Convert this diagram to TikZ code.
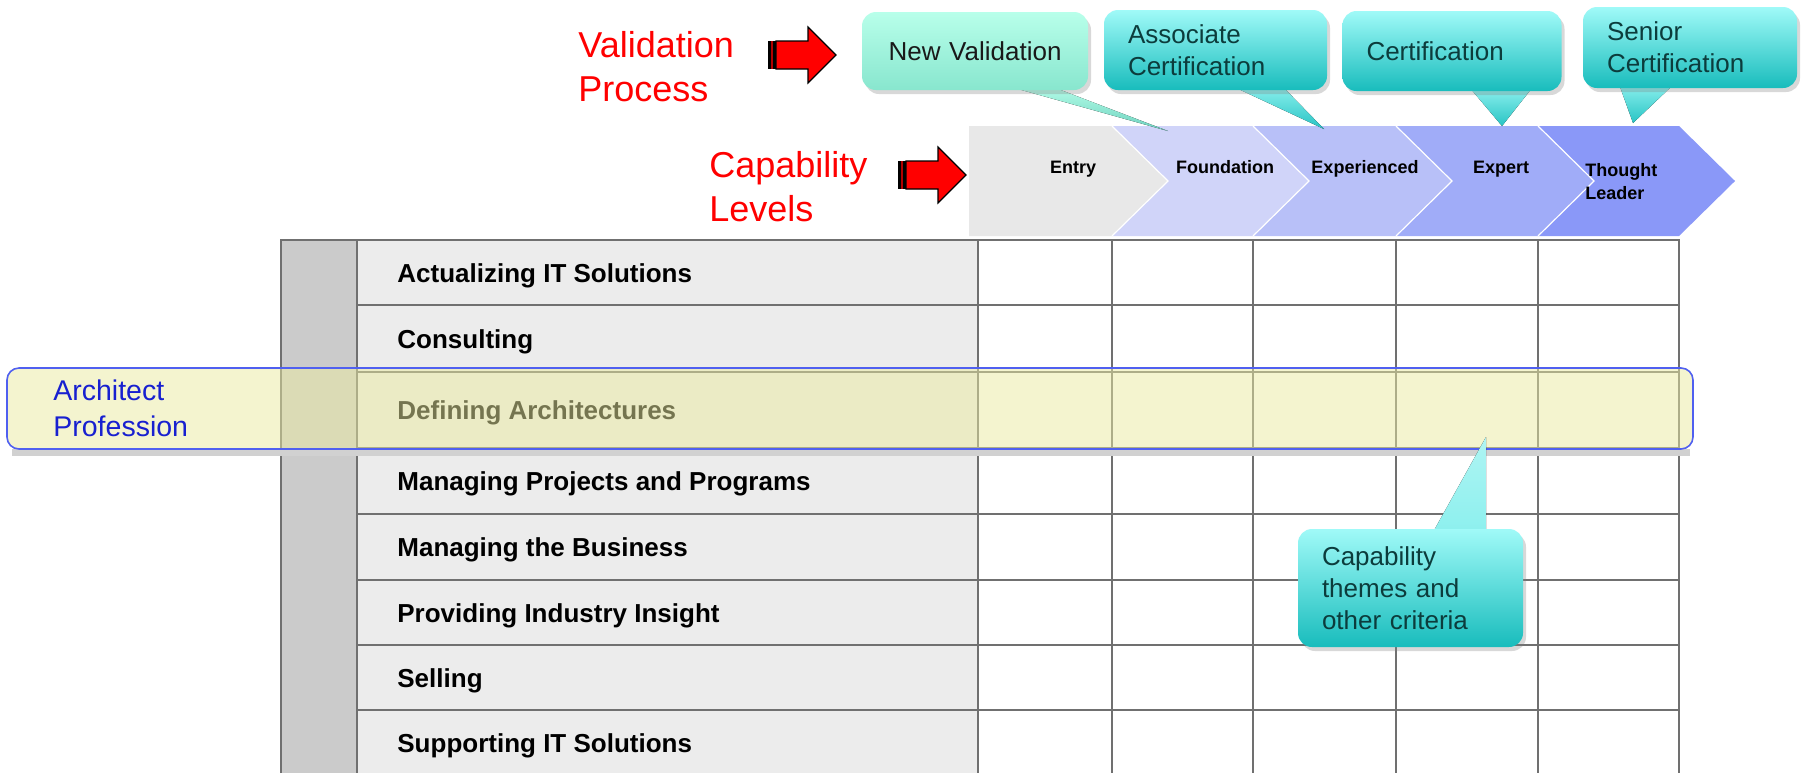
\documentclass[tikz,border=0pt]{standalone}
\usepackage{fontspec}
\setmainfont{Liberation Sans}
\usetikzlibrary{shadows}
\definecolor{redtext}{RGB}{255,0,0}
\definecolor{graycol}{RGB}{203,203,203}
\definecolor{labelbg}{RGB}{236,236,236}
\definecolor{gridcol}{RGB}{112,112,112}
\definecolor{chevA}{RGB}{232,232,232}
\definecolor{chevB}{RGB}{208,212,249}
\definecolor{chevC}{RGB}{184,192,248}
\definecolor{chevD}{RGB}{160,172,248}
\definecolor{chevE}{RGB}{138,152,248}
\definecolor{bandfill}{RGB}{235,235,160}
\definecolor{bandline}{RGB}{80,96,240}
\definecolor{archblue}{RGB}{24,32,208}
\definecolor{calltop}{RGB}{160,250,248}
\definecolor{callbot}{RGB}{24,188,188}
\definecolor{calltext}{RGB}{12,60,60}
\definecolor{nvtop}{RGB}{184,255,234}
\definecolor{nvbot}{RGB}{136,230,206}
\definecolor{ptrtop}{RGB}{140,240,238}
\definecolor{ptrbot}{RGB}{40,196,196}
\begin{document}
\begin{tikzpicture}[x=0.5pt,y=-0.5pt,
  gridline/.style={draw=gridcol,line width=0.9pt},
  gridthick/.style={draw=gridcol,line width=1.3pt},
  rowlabel/.style={anchor=base west,inner sep=0pt,font=\fontsize{13}{16}\selectfont\bfseries},
  levellabel/.style={anchor=base,inner sep=0pt,font=\fontsize{9}{11.5}\selectfont\bfseries},
  redlabel/.style={anchor=west,inner sep=0pt,align=left,text=redtext,font=\fontsize{18}{22}\selectfont},
  callout/.style={rounded corners=7pt,inner xsep=12pt,inner ysep=2pt,align=left,text=calltext,
    font=\fontsize{13}{16}\selectfont,top color=calltop,bottom color=callbot,
    drop shadow={opacity=0.3,shadow xshift=1.5pt,shadow yshift=-2pt}},
  nvcallout/.style={callout,top color=nvtop,bottom color=nvbot,text=black!90,align=center},
  pointer/.style={top color=ptrtop,bottom color=ptrbot},
  redarrow/.pic={
    \fill[black] (0,-14) rectangle (8,14);
    \draw[red!70!black,line width=0.8pt] (4,-14) -- (4,14);
    \draw[black,fill=red,line width=0.6pt] (8,-14) -- (40,-14) -- (40,-28) -- (68,0) -- (40,28) -- (40,14) -- (8,14) -- cycle;
  }
]
\useasboundingbox (0,0) rectangle (1814,773);
\fill[white] (0,0) rectangle (1814,773);

% ---------- table ----------
\fill[graycol] (281,240) rectangle (357,773);
\fill[labelbg] (357,240) rectangle (978,773);
\fill[white] (978,240) rectangle (1679,773);
\foreach \yy in {305,372,448,514,645,710}
  \draw[gridline] (357,\yy) -- (1679,\yy);
\draw[gridthick] (357,580) -- (1679,580);
\foreach \xx in {357,978,1112,1396,1538}
  \draw[gridline] (\xx,240) -- (\xx,773);
\draw[gridthick] (1253,240) -- (1253,773);
\draw[gridthick] (281,773) -- (281,240) -- (1679,240) -- (1679,773);

% row labels
\node[rowlabel] (r1) at (397,282) {Actualizing IT Solutions};
\node[rowlabel] (r2) at (397,348) {Consulting};
\node[rowlabel] (r3) at (397,419) {Defining Architectures};
\node[rowlabel] (r4) at (397,490) {Managing Projects and Programs};
\node[rowlabel] (r5) at (397,556) {Managing the Business};
\node[rowlabel] (r6) at (397,622) {Providing Industry Insight};
\node[rowlabel] (r7) at (397,687) {Selling};
\node[rowlabel] (r8) at (397,752) {Supporting IT Solutions};

% ---------- capability level chevrons ----------
\fill[chevA] (969,126) -- (1112,126) -- (1168,181) -- (1112,236) -- (969,236) -- cycle;
\fill[chevB] (1112,126) -- (1253,126) -- (1309,181) -- (1253,236) -- (1112,236) -- (1168,181) -- cycle;
\fill[chevC] (1253,126) -- (1396,126) -- (1452,181) -- (1396,236) -- (1253,236) -- (1309,181) -- cycle;
\fill[chevD] (1396,126) -- (1538,126) -- (1594,181) -- (1538,236) -- (1396,236) -- (1452,181) -- cycle;
\fill[chevE] (1538,126) -- (1679,126) -- (1735,181) -- (1679,236) -- (1538,236) -- (1594,181) -- cycle;
\foreach \xx in {1112,1253,1396,1538}
  \draw[white,line width=0.6pt] (\xx,126) -- ++(56,55) -- ++(-56,55);

\node[levellabel] (entry) at (1073,173.5) {Entry};
\node[levellabel] (found) at (1225,173.5) {Foundation};
\node[levellabel] (exper) at (1365,173.5) {Experienced};
\node[levellabel] (expert) at (1501,173.5) {Expert};
\node[anchor=west,inner sep=0pt,align=left,font=\fontsize{9}{11.5}\selectfont\bfseries] (tl) at (1585,182) {Thought\\Leader};

% ---------- red labels and arrows ----------
\node[redlabel] (vp) at (578,67) {Validation\\Process};
\node[redlabel] (cl) at (709,187) {Capability\\Levels};
\pic at (768,55) {redarrow};
\pic at (898,175) {redarrow};

% ---------- callouts at the top ----------
\fill[top color=nvtop,bottom color=nvbot!80!teal] (1000,84) -- (1045,84) -- (1168,131) -- cycle;
\fill[pointer] (1232,86) -- (1282,86) -- (1324,129) -- cycle;
\fill[pointer] (1470,88) -- (1532,88) -- (1502,126) -- cycle;
\fill[pointer] (1619,84) -- (1674,84) -- (1633,123) -- cycle;

\node[nvcallout,minimum height=39pt,text width=89pt] (nv) at (975,51) {New Validation};
\node[callout,minimum height=40pt,text width=87.5pt] (ac) at (1215.5,50) {Associate\\Certification};
\node[callout,minimum height=40pt,text width=85.5pt] (cert) at (1452,51) {Certification};
\node[callout,minimum height=40.5pt,text width=83pt] (sc) at (1690,47.5) {Senior\\Certification};

% ---------- architect profession band ----------
\fill[black!18] (12,449) rectangle (1690,456);
\node[draw=bandline,line width=0.8pt,rounded corners=6pt,fill=bandfill,fill opacity=0.5,
  minimum width=843pt,minimum height=40.5pt,inner sep=0pt] (band) at (850,408.5) {};
\node[anchor=west,inner sep=0pt,align=left,text=archblue,font=\fontsize{14.25}{17.65}\selectfont] (arch) at (53,408.2) {Architect\\Profession};

% ---------- capability themes callout ----------
\fill[top color=ptrtop!70!white,bottom color=ptrtop] (1432,534) -- (1486,534) -- (1486,437) -- cycle;
\node[callout,minimum height=59pt,text width=88.5pt] (ct) at (1410.5,588) {Capability\\themes and\\other criteria};
\end{tikzpicture}
\end{document}
